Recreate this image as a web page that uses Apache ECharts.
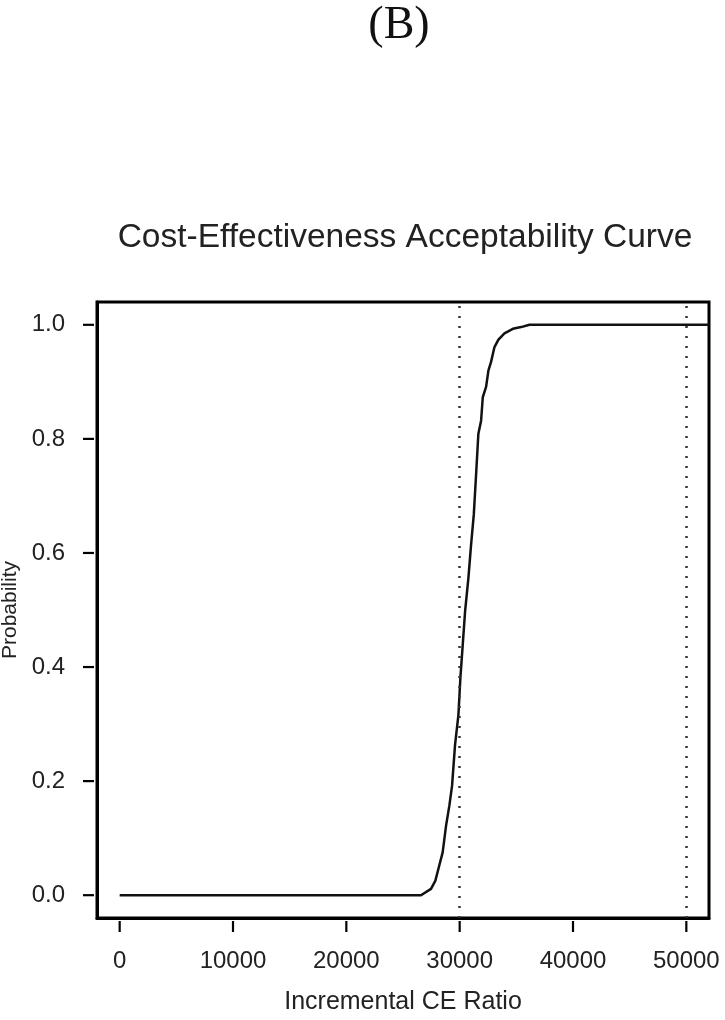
<!DOCTYPE html>
<html>
<head>
<meta charset="utf-8">
<script src="https://cdn.jsdelivr.net/npm/echarts@6/dist/echarts.min.js"></script>
<style>html,body{margin:0;padding:0;background:#fff}#c{width:725px;height:1020px}</style>
</head>
<body>
<div id="c"></div>
<script>
// Data
const ratio = [0, 26590, 27470, 27850, 28200, 28500, 28800, 29090, 29330, 29590, 29890, 30060, 30270, 30480, 30770, 31010, 31250, 31450, 31650, 31890, 32040, 32330, 32540, 32770, 33070, 33420, 33950, 34690, 35420, 36160, 52000];
const probability = [0, 0, 0.011, 0.025, 0.052, 0.075, 0.122, 0.157, 0.192, 0.263, 0.316, 0.380, 0.439, 0.498, 0.556, 0.615, 0.668, 0.738, 0.809, 0.832, 0.873, 0.891, 0.920, 0.935, 0.961, 0.974, 0.985, 0.993, 0.996, 1.0, 1.0];
const xTicks = [0, 10000, 20000, 30000, 40000, 50000];
const yTicks = [0, 0.2, 0.4, 0.6, 0.8, 1.0];
const thresholds = [30000, 50000];
const xRange = [-2000, 52000];
const yRange = [-0.04, 1.04];

const chart = echarts.init(document.getElementById('c'));
const txt = '#222';

// outward tick marks drawn through the axes' own scales (as thin filled rects)
function tickSeries(data, horizontal) {
  return {
    type: 'custom', silent: true, clip: false, z: 100, zlevel: 1,
    data: data,
    renderItem: function (params, api) {
      const p = api.coord([api.value(0), api.value(1)]);
      const shape = horizontal
        ? { x: p[0] - 14, y: p[1] - 1.1, width: 11, height: 2.2 }
        : { x: p[0] - 1.1, y: p[1] + 3, width: 2.2, height: 11 };
      return { type: 'rect', shape: shape, style: { fill: '#000' } };
    }
  };
}

chart.setOption({
  animation: false,
  backgroundColor: '#fff',
  title: [
    { text: '(B)', left: 394, textAlign: 'center', top: -2, textStyle: { fontFamily: 'Liberation Serif', fontSize: 46, fontWeight: 'normal', color: '#111' } },
    { text: 'Cost-Effectiveness Acceptability Curve', left: 400, textAlign: 'center', top: 216, textStyle: { fontFamily: 'Liberation Sans', fontSize: 33.5, fontWeight: 'normal', color: txt } }
  ],
  grid: { left: 97, right: 16, top: 302, bottom: 102, containLabel: false, outerBoundsMode: 'none', show: true, borderColor: '#000', borderWidth: 3, backgroundColor: 'transparent' },
  xAxis: {
    type: 'value', min: xRange[0], max: xRange[1],
    name: 'Incremental CE Ratio', nameLocation: 'middle', nameGap: 72,
    nameTextStyle: { fontFamily: 'Liberation Sans', fontSize: 25, color: txt },
    axisLine: { show: true, onZero: false, lineStyle: { color: '#000', width: 3 } },
    axisTick: { show: false },
    axisLabel: { customValues: xTicks, margin: 31, fontFamily: 'Liberation Sans', fontSize: 24, color: txt, formatter: v => String(v) },
    splitLine: { show: false }
  },
  yAxis: {
    type: 'value', min: yRange[0], max: yRange[1],
    name: 'Probability', nameLocation: 'middle', nameGap: 72,
    nameTextStyle: { fontFamily: 'Liberation Sans', fontSize: 21, color: txt },
    axisLine: { show: true, onZero: false, lineStyle: { color: '#000', width: 3 } },
    axisTick: { show: false },
    axisLabel: { customValues: yTicks, margin: 32, fontFamily: 'Liberation Sans', fontSize: 24, color: txt, formatter: v => v.toFixed(1) },
    splitLine: { show: false }
  },
  series: [{
    type: 'line',
    data: ratio.map((x, i) => [x, probability[i]]),
    showSymbol: false,
    clip: true,
    lineStyle: { color: '#111', width: 2.5 },
    markLine: {
      symbol: 'none', silent: true, label: { show: false },
      lineStyle: { color: '#333', type: [2, 8], width: 2.5 },
      data: thresholds.map(v => ({ xAxis: v }))
    }
  },
  tickSeries(xTicks.map(v => [v, yRange[0]]), false),
  tickSeries(yTicks.map(v => [xRange[0], v]), true)
  ]
});
</script>
</body>
</html>
